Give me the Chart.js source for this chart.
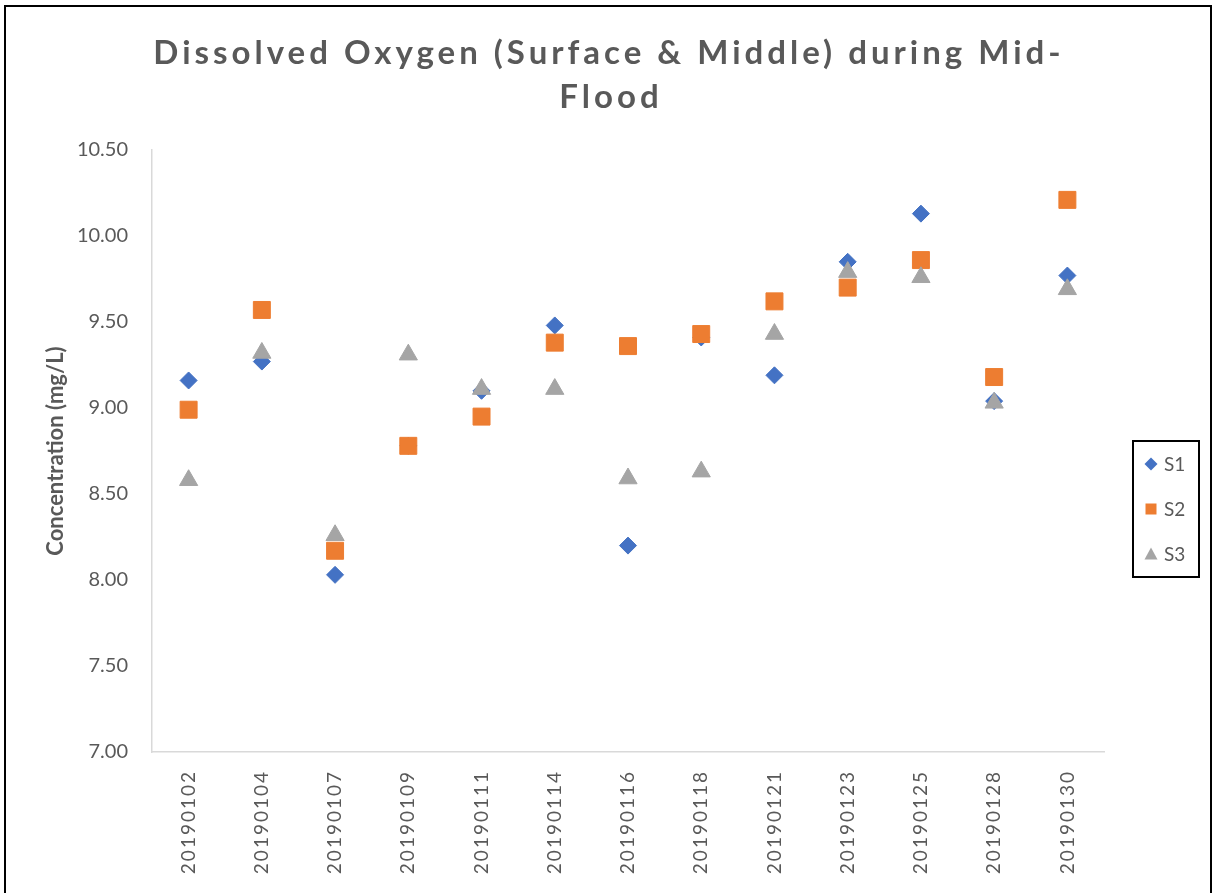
<!DOCTYPE html>
<html><head><meta charset="utf-8">
<script src="https://cdn.jsdelivr.net/npm/chart.js@4.4.1/dist/chart.umd.min.js"></script>
<style>html,body{margin:0;padding:0;background:#fff;overflow:hidden}canvas{display:block}</style>
</head><body>
<canvas id="c" width="1213" height="893"></canvas>
<script>
const categories = ['20190102','20190104','20190107','20190109','20190111','20190114','20190116','20190118','20190121','20190123','20190125','20190128','20190130'];
const s1Values = [9.16, 9.27, 8.03, 8.78, 9.10, 9.48, 8.20, 9.41, 9.19, 9.85, 10.13, 9.04, 9.77];
const s2Values = [8.99, 9.57, 8.17, 8.78, 8.95, 9.38, 9.36, 9.43, 9.62, 9.70, 9.86, 9.18, 10.21];
const s3Values = [8.58, 9.32, 8.26, 9.31, 9.11, 9.11, 8.59, 8.63, 9.43, 9.79, 9.76, 9.03, 9.69];
const seriesNames = ['S1','S2','S3'];
const titleLines = ['Dissolved Oxygen (Surface & Middle) during Mid-', 'Flood'];
const yTitle = 'Concentration (mg/L)';

const colors = ['#4472C4','#ED7D31','#A5A5A5'];
const styles = ['rectRot','rect','triangle'];
const radii = [8.5, 12, 10.5];

const decor = {
  id: 'decor',
  beforeDraw(chart) {
    const ctx = chart.ctx;
    ctx.save();
    ctx.fillStyle = '#fff';
    ctx.fillRect(0, 0, chart.width, chart.height);
    ctx.restore();
    const xs = chart.scales.x;
    if (!xs._spaced) {
      const orig = xs.drawLabels;
      xs.drawLabels = function (a) {
        const c = this.ctx; const prev = c.letterSpacing;
        c.letterSpacing = '2px';
        orig.call(this, a);
        c.letterSpacing = prev || '0px';
      };
      xs._spaced = true;
    }
  },
  afterDraw(chart) {
    const ctx = chart.ctx;
    ctx.save();
    // title
    ctx.fillStyle = '#595959';
    ctx.font = 'bold 33px Lato';
    ctx.letterSpacing = '4px';
    ctx.textAlign = 'center';
    ctx.textBaseline = 'alphabetic';
    ctx.fillText(titleLines[0], 609, 64);
    ctx.fillText(titleLines[1], 611, 108);
    ctx.letterSpacing = '0px';
    // legend
    ctx.strokeStyle = '#000';
    ctx.lineWidth = 2;
    ctx.strokeRect(1133, 441, 66, 136);
    const ys = [464, 509, 554];
    const mx = 1151;
    ys.forEach((y, i) => {
      ctx.fillStyle = colors[i];
      ctx.beginPath();
      if (i === 0) {
        ctx.moveTo(mx, y - 6.5); ctx.lineTo(mx + 6.5, y); ctx.lineTo(mx, y + 6.5); ctx.lineTo(mx - 6.5, y); ctx.closePath();
      } else if (i === 1) {
        ctx.rect(mx - 5.5, y - 5.5, 11, 11);
      } else {
        ctx.moveTo(mx, y - 6.5); ctx.lineTo(mx + 6.5, y + 5.5); ctx.lineTo(mx - 6.5, y + 5.5); ctx.closePath();
      }
      ctx.fill();
      ctx.fillStyle = '#595959';
      ctx.font = '19px Lato';
      ctx.textAlign = 'left';
      ctx.textBaseline = 'middle';
      ctx.fillText(seriesNames[i], 1164, y + 1);
    });
    // outer border
    ctx.strokeStyle = '#000';
    ctx.lineWidth = 2;
    ctx.beginPath();
    ctx.moveTo(5, 900); ctx.lineTo(5, 6); ctx.lineTo(1211, 6); ctx.lineTo(1211, 900);
    ctx.stroke();
    ctx.restore();
  }
};

const dataArrays = [s1Values, s2Values, s3Values];
new Chart(document.getElementById('c'), {
  type: 'line',
  data: {
    labels: categories,
    datasets: dataArrays.map((d, i) => ({
      label: seriesNames[i],
      data: d,
      showLine: false,
      pointStyle: styles[i],
      pointRadius: radii[i],
      pointHoverRadius: radii[i],
      pointBackgroundColor: colors[i],
      pointBorderColor: colors[i],
      pointBorderWidth: 1,
      backgroundColor: colors[i],
      borderColor: colors[i],
      order: 3 - i
    }))
  },
  options: {
    responsive: false,
    devicePixelRatio: 1,
    animation: false,
    layout: { padding: { top: 150, right: 109, bottom: 0, left: 0 } },
    plugins: { legend: { display: false }, title: { display: false }, tooltip: { enabled: false } },
    scales: {
      x: {
        type: 'category',
        offset: true,
        grid: { display: false, drawTicks: false },
        border: { display: true, color: '#d9d9d9', width: 1.5 },
        ticks: { autoSkip: false, minRotation: 90, maxRotation: 90, padding: 18, color: '#595959', font: { family: 'Lato', size: 19 } },
        afterFit(s) { s.height = 141; }
      },
      y: {
        min: 7, max: 10.5,
        grid: { display: false, drawTicks: false },
        border: { display: true, color: '#d9d9d9', width: 1.5 },
        ticks: { stepSize: 0.5, padding: 24, color: '#595959', font: { family: 'Lato', size: 20 }, callback: v => Number(v).toFixed(2) },
        title: { display: true, text: yTitle, color: '#595959', font: { family: 'Lato', size: 22, weight: 'bold' }, padding: { top: 43, bottom: 0 } },
        afterFit(s) { s.width = 152; }
      }
    }
  },
  plugins: [decor]
});
</script>
</body></html>
